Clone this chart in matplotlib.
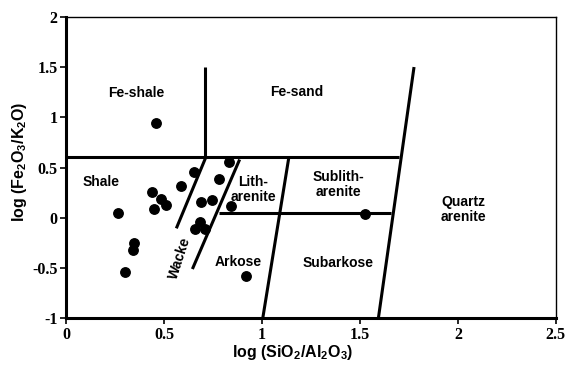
import matplotlib
matplotlib.use("Agg")
import matplotlib.pyplot as plt

plt.rcParams['mathtext.default'] = 'regular'

# sample points: log(SiO2/Al2O3), log(Fe2O3/K2O)
x_pts = [0.461, 0.266, 0.439, 0.487, 0.512, 0.448, 0.589, 0.653, 0.348, 0.343,
         0.300, 0.690, 0.745, 0.780, 0.830, 0.840, 0.682, 0.656, 0.707, 0.916, 1.525]
y_pts = [0.94, 0.045, 0.26, 0.187, 0.127, 0.085, 0.32, 0.453, -0.248, -0.32,
         -0.536, 0.154, 0.177, 0.386, 0.558, 0.12, -0.039, -0.114, -0.114, -0.58, 0.035]

# field boundaries (Herron 1988)
boundaries = [
    ([0.0, 1.70], [0.6, 0.6]),
    ([0.711, 0.711], [0.6, 1.5]),
    ([0.563, 0.711], [-0.105, 0.59]),
    ([0.645, 0.886], [-0.51, 0.58]),
    ([0.779, 1.657], [0.05, 0.05]),
    ([1.004, 1.137], [-1.0, 0.6]),
    ([1.594, 1.776], [-1.0, 1.5]),
]

fields = [
    ("Fe-shale", 0.36, 1.24, 0),
    ("Fe-sand", 1.18, 1.25, 0),
    ("Shale", 0.18, 0.36, 0),
    ("Lith-\narenite", 0.955, 0.28, 0),
    ("Wacke", 0.58, -0.40, 72),
    ("Arkose", 0.88, -0.44, 0),
    ("Sublith-\narenite", 1.39, 0.33, 0),
    ("Quartz\narenite", 2.03, 0.08, 0),
    ("Subarkose", 1.39, -0.45, 0),
]

fig = plt.figure(figsize=(5.69, 3.65), dpi=100)
ax = fig.add_axes([0.116, 0.128, 0.861, 0.826])

for bx, by in boundaries:
    ax.plot(bx, by, color='black', linewidth=2.2, solid_capstyle='butt')

ax.plot(x_pts, y_pts, 'o', color='black', markersize=6.8, zorder=3)

for txt, tx, ty, rot in fields:
    ax.text(tx, ty, txt, ha='center', va='center', rotation=rot,
            fontsize=10, fontweight='bold', family='Liberation Sans', linespacing=1.1)

ax.set_xlim(0, 2.5)
ax.set_ylim(-1, 2)
ax.set_xticks([0, 0.5, 1, 1.5, 2, 2.5])
ax.set_xticklabels(['0', '0.5', '1', '1.5', '2', '2.5'])
ax.set_yticks([-1, -0.5, 0, 0.5, 1, 1.5, 2])
ax.set_yticklabels(['-1', '-0.5', '0', '0.5', '1', '1.5', '2'])
for lab in ax.get_xticklabels() + ax.get_yticklabels():
    lab.set_family('Liberation Serif')
    lab.set_fontweight('bold')
    lab.set_fontsize(11.5)
ax.tick_params(direction='out', length=4, width=1.2, pad=2)

ax.spines['left'].set_linewidth(2.2)
ax.spines['bottom'].set_linewidth(2.2)
ax.spines['top'].set_linewidth(1.0)
ax.spines['right'].set_linewidth(1.0)

ax.set_xlabel('log (SiO$_2$/Al$_2$O$_3$)', fontsize=11.5, fontweight='bold',
              family='Liberation Sans')
ax.set_ylabel('log (Fe$_2$O$_3$/K$_2$O)', fontsize=11.5, fontweight='bold',
              family='Liberation Sans')
ax.xaxis.set_label_coords(0.463, -0.082)
ax.yaxis.set_label_coords(-0.075, 0.52)

fig.savefig('out.png', dpi=100)
